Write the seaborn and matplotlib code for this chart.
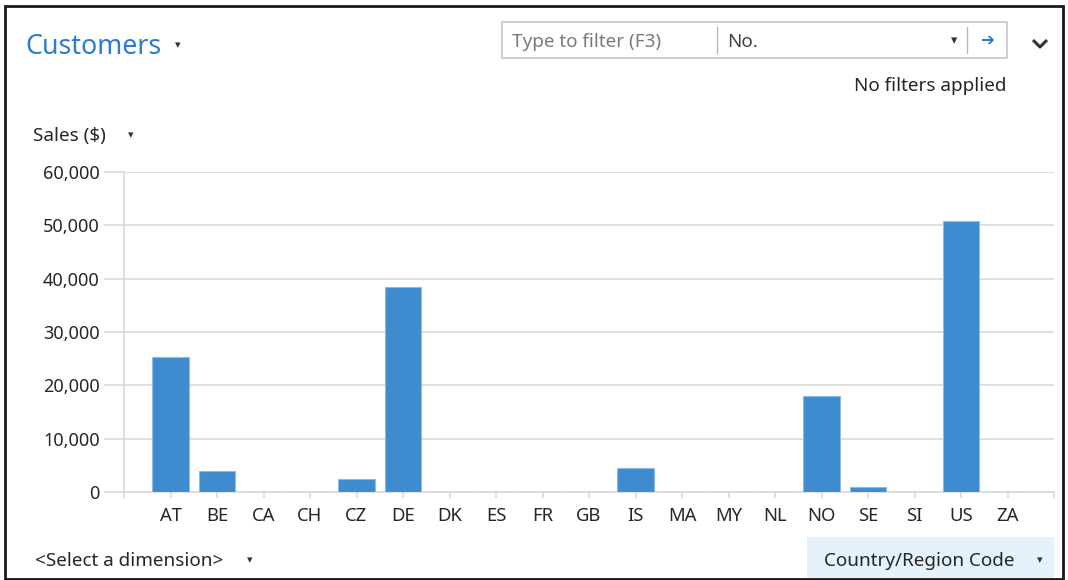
import matplotlib
matplotlib.use("Agg")
import matplotlib.pyplot as plt
from matplotlib.transforms import Affine2D
from matplotlib.lines import Line2D
from matplotlib.patches import Rectangle
import seaborn as sns

# Sales by country/region code
codes = ["AT", "BE", "CA", "CH", "CZ", "DE", "DK", "ES", "FR", "GB",
         "IS", "MA", "MY", "NL", "NO", "SE", "SI", "US", "ZA"]
sales = [25300, 3900, 0, 0, 2450, 38450, 0, 0, 0, 0,
         4500, 0, 0, 0, 18000, 950, 0, 50800, 0]
y_ticks = [0, 10000, 20000, 30000, 40000, 50000, 60000]

W, H = 1068, 580
BAR = "#3f8bd0"
GRID = "#d9d9d9"
TXT = "#262626"
FONT = ["Noto Sans", "DejaVu Sans"]
FS = 13.6

sns.set_theme(style="white")
plt.rcParams["font.family"] = FONT

fig = plt.figure(figsize=(W / 100, H / 100), dpi=100)
fig.patch.set_facecolor("white")
# pixel coordinates measured from the top-left corner
PX = Affine2D().scale(1 / W, -1 / H).translate(0, 1) + fig.transFigure

left, right, top, bottom = 124, 1054, 172, 492
ax = fig.add_axes([left / W, (H - bottom) / H, (right - left) / W, (bottom - top) / H])

sns.barplot(x=codes, y=sales, color=BAR, width=0.78, saturation=1,
            edgecolor="#8dbbe8", linewidth=0.8, ax=ax, zorder=3)
ax.set_xlim(-1, len(codes))
ax.set_ylim(0, 60000)
ax.set_yticks(y_ticks)
ax.set_yticklabels([f"{v:,}" for v in y_ticks])
ax.set_xlabel("")
ax.set_ylabel("")
ax.set_xticks([-1, len(codes)], minor=True)

ax.grid(axis="y", color=GRID, linewidth=1.2, zorder=0)
ax.grid(axis="x", visible=False)
for s in ["top", "right"]:
    ax.spines[s].set_visible(False)
for s in ["left", "bottom"]:
    ax.spines[s].set_color(GRID)
    ax.spines[s].set_linewidth(1.2)
ax.tick_params(axis="y", which="major", length=14.5, width=1.2, color=GRID,
               pad=3, labelsize=13, labelcolor=TXT, left=True)
ax.tick_params(axis="x", which="both", length=4, width=1.2, color=GRID,
               pad=7, labelsize=13.3, labelcolor=TXT, bottom=True)


def caret(x, y, size=8):
    fig.text(x, y, "▾", transform=PX, fontsize=size, color="#333333",
             va="center", ha="center", family="DejaVu Sans")


# header
fig.text(25, 47, "Customers", transform=PX, fontsize=19.3, color="#2b7cd3",
         va="center", ha="left")
caret(178, 45)

# filter box
fig.add_artist(Rectangle((502, 22), 505, 36, transform=PX, fill=False,
                         edgecolor="#c6c6c6", linewidth=1.2))
fig.add_artist(Line2D([717, 717], [27, 53], transform=PX, color="#b8b8b8", linewidth=1))
fig.add_artist(Line2D([967, 967], [27, 53], transform=PX, color="#b8b8b8", linewidth=1))
fig.text(512, 42, "Type to filter (F3)", transform=PX, fontsize=FS,
         color="#7a7a7a", va="center", ha="left")
fig.text(727, 42, "No.", transform=PX, fontsize=FS, color="#444444",
         va="center", ha="left")
caret(954, 41, 9)
fig.text(987, 40, "➔", transform=PX, fontsize=12, color="#2b7cd3",
         va="center", ha="center", family="DejaVu Sans", fontweight="bold")
fig.add_artist(Line2D([1033, 1040, 1047], [40, 47, 40], transform=PX,
                      color="#333333", linewidth=2.2, solid_capstyle="butt"))
fig.text(1007, 86, "No filters applied", transform=PX, fontsize=FS,
         color=TXT, va="center", ha="right")

# measure selector
fig.text(33, 136, "Sales ($)", transform=PX, fontsize=FS, color=TXT,
         va="center", ha="left")
caret(131, 135)

# dimension selectors
fig.text(35, 561, "<Select a dimension>", transform=PX, fontsize=FS,
         color=TXT, va="center", ha="left")
caret(250, 560)
fig.add_artist(Rectangle((807, 537), 247, 43, transform=PX, facecolor="#e5f1fb",
                         edgecolor="none"))
fig.text(824, 561, "Country/Region Code", transform=PX, fontsize=FS,
         color=TXT, va="center", ha="left")
caret(1040, 560)

# window frame
fig.add_artist(Rectangle((5, 6), 1058, 573, transform=PX, fill=False,
                         edgecolor="#1a1a1a", linewidth=2))

fig.savefig("out.png", dpi=100, facecolor="white")
